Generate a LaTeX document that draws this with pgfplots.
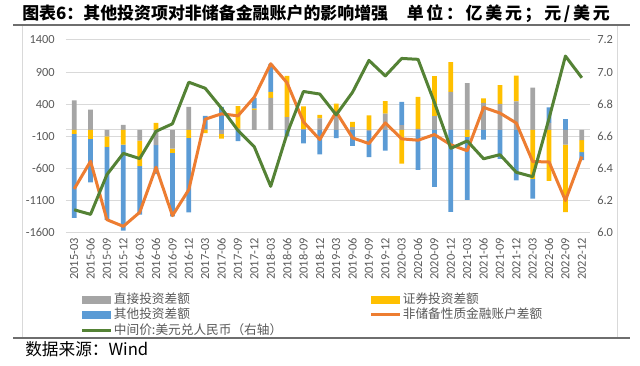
\documentclass[border=0pt]{standalone}
\usepackage{pgfplots}
\pgfplotsset{compat=1.18}
\usepackage{pgfplotstable}
\usepackage{fontspec}
\setmainfont{Carlito}
\newfontfamily\cjk{Noto Sans CJK SC}
\definecolor{cgray}{HTML}{A5A5A5}
\definecolor{cyel}{HTML}{FFC000}
\definecolor{cblue}{HTML}{5B9BD5}
\definecolor{corange}{HTML}{ED7D31}
\definecolor{cgreen}{HTML}{548235}
\definecolor{cgrid}{HTML}{D9D9D9}
\definecolor{ctext}{HTML}{595959}
\definecolor{crule}{HTML}{6E6E6E}
\pgfplotsset{
  barleg/.style={legend image code/.code={\fill[##1] (0pt,-3pt) rectangle (21.75pt,3pt);}},
  lineleg/.style={legend image code/.code={\draw[##1] (0pt,0pt) -- (21.75pt,0pt);}}
}
\pgfplotstableread{
x gp yp bp gn yn bn o fx
0 460 0 0 0 -62 -1310 -920 6.1422
1 317 0 0 0 -140 -676 -489 6.1136
2 0 0 0 -100 -166 -1134 -1399 6.3613
3 78 0 0 0 -229 -1342 -1503 6.4936
4 0 0 0 -166 -400 -754 -1284 6.4612
5 0 109 0 -239 0 -450 -582 6.6312
6 0 0 0 -291 -68 -988 -1336 6.6778
7 359 0 0 0 -125 -1160 -931 6.9370
8 15 0 205 0 -52 0 166 6.8993
9 0 0 359 -62 -73 0 250 6.7744
10 20 350 0 0 0 -177 218 6.6369
11 312 20 166 0 0 0 510 6.5342
12 499 94 437 0 0 0 1030 6.2881
13 198 645 0 0 0 -99 733 6.6166
14 10 355 0 0 0 -210 125 6.8792
15 180 52 0 0 0 -380 -151 6.8632
16 220 190 0 0 0 -130 280 6.7335
17 42 83 0 0 0 -250 -125 6.8747
18 0 224 0 -20 0 -405 -213 7.0729
19 255 192 0 0 0 -322 109 6.9762
20 73 0 364 0 -525 0 -140 7.0851
21 15 500 0 0 0 -624 -161 7.0795
22 213 624 0 0 0 -889 -73 6.8101
23 593 463 0 0 0 -1279 -232 6.5249
24 727 0 0 0 -110 -980 -325 6.5713
25 421 68 0 0 0 -151 350 6.4601
26 406 293 0 0 0 -452 262 6.4854
27 444 400 0 0 0 -787 106 6.3757
28 660 0 0 0 -765 -305 -494 6.3482
29 110 0 240 0 -795 0 -499 6.7114
30 0 0 168 -229 -1052 0 -1100 7.0998
31 0 0 0 -160 -187 -125 -416 6.9646
}\data
\begin{document}
\begin{tikzpicture}
\path[use as bounding box] (0,0) rectangle (480pt,-274.5pt);
\draw[cgrid, line width=0.75pt] (17pt,-18.75pt) rectangle (462.75pt,-253.5pt);
\draw[crule, line width=0.9pt] (9.75pt,-18.75pt) -- (472.5pt,-18.75pt);
\draw[crule, line width=0.9pt] (9.75pt,-253.5pt) -- (472.5pt,-253.5pt);
\node[anchor=base west, inner sep=0pt] at (16.5pt,-15pt) {\cjk\bfseries\fontsize{12.7pt}{15pt}\selectfont 图表6：其他投资项对非储备金融账户的影响增强};
\node[anchor=base east, inner sep=0pt] at (457.5pt,-15pt) {\cjk\bfseries\fontsize{12.7pt}{15pt}\selectfont\addfontfeature{LetterSpace=16}单位：亿美元；元/美元};
\node[anchor=base west, inner sep=0pt] at (18.75pt,-267pt) {\cjk\fontsize{12.5pt}{14pt}\selectfont 数据来源：Wind};
\pgfplotsset{base/.style={scale only axis, width=393pt, height=144.45pt, at={(49.5pt,-174.45pt)}, anchor=south west, xmin=-0.5, xmax=31.5, enlargelimits=false}}
\begin{axis}[base, ymin=-1600, ymax=1400, ybar stacked, bar width=3.5pt,
  ytick={-1600,-1100,-600,-100,400,900,1400},
  yticklabels={-1600,-1100,-600,-100,400,900,1400},
  xtick={0,...,31},
  xticklabels={2015-03,2015-06,2015-09,2015-12,2016-03,2016-06,2016-09,2016-12,2017-03,2017-06,2017-09,2017-12,2018-03,2018-06,2018-09,2018-12,2019-03,2019-06,2019-09,2019-12,2020-03,2020-06,2020-09,2020-12,2021-03,2021-06,2021-09,2021-12,2022-03,2022-06,2022-09,2022-12},
  ymajorgrids, grid style={cgrid, line width=0.75pt},
  extra y ticks={0}, extra y tick labels={}, extra y tick style={grid=major},
  axis line style={draw=none}, major tick length=0pt,
  tick label style={font=\fontsize{9.3pt}{11pt}\selectfont, text=ctext, inner sep=0pt},
  xticklabel style={rotate=90, anchor=east},
  xticklabel shift=4pt, yticklabel shift=8.25pt]
\addplot[fill=cgray, draw=none] table[x=x,y=gp]{\data};
\addplot[fill=cyel, draw=none] table[x=x,y=yp]{\data};
\addplot[fill=cblue, draw=none] table[x=x,y=bp]{\data};
\end{axis}
\begin{axis}[base, ymin=-1600, ymax=1400, ybar stacked, bar width=3.5pt, hide axis]
\addplot[fill=cgray, draw=none] table[x=x,y=gn]{\data};
\addplot[fill=cyel, draw=none] table[x=x,y=yn]{\data};
\addplot[fill=cblue, draw=none] table[x=x,y=bn]{\data};
\end{axis}
\begin{axis}[base, ymin=-1600, ymax=1400, hide axis]
\addplot[corange, line width=2.25pt, line join=round, mark=none] table[x=x,y=o]{\data};
\end{axis}
\begin{axis}[base, ymin=6.0, ymax=7.2, axis y line*=right, axis x line=none,
  axis line style={draw=none}, major tick length=0pt,
  ytick={6.0,6.2,6.4,6.6,6.8,7.0,7.2}, yticklabels={6.0,6.2,6.4,6.6,6.8,7.0,7.2},
  tick label style={font=\fontsize{9.3pt}{11pt}\selectfont, text=ctext, inner sep=0pt},
  yticklabel shift=5.25pt, xtick=\empty,
  legend columns=2, legend cell align=left,
  legend style={at={(axis description cs:0.0286,-0.310)}, anchor=north west, draw=none, fill=none,
    inner sep=0pt, outer sep=0pt, font=\cjk\fontsize{9.5pt}{11pt}\selectfont, text=ctext,
    row sep=0.5pt, nodes={inner sep=0.75pt, text height=7.6pt, text depth=1.9pt},
    /tikz/every even column/.append style={column sep=65pt}}]
\addlegendimage{fill=cgray, draw=none, barleg}
\addlegendentry{直接投资差额}
\addlegendimage{fill=cyel, draw=none, barleg}
\addlegendentry{证券投资差额}
\addlegendimage{fill=cblue, draw=none, barleg}
\addlegendentry{其他投资差额}
\addlegendimage{corange, line width=2.25pt, lineleg}
\addlegendentry{非储备性质金融账户差额}
\addplot[cgreen, line width=2.25pt, line join=round, mark=none, lineleg] table[x=x,y=fx]{\data};
\addlegendentry{中间价:美元兑人民币（右轴）}
\end{axis}
\end{tikzpicture}
\end{document}
